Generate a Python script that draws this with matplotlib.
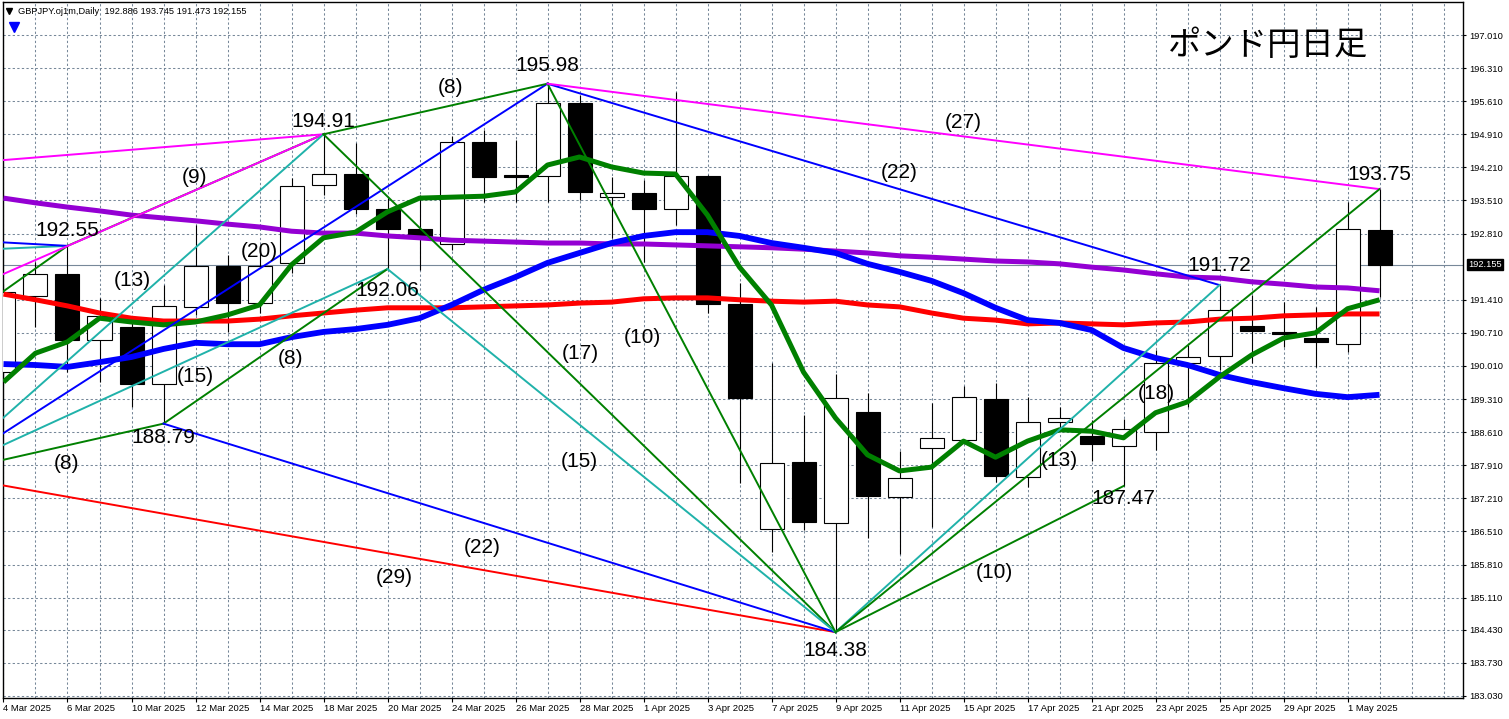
import matplotlib
matplotlib.use("Agg")
import matplotlib.pyplot as plt
import matplotlib.transforms as mtransforms

plt.rcParams['font.family'] = ['Liberation Sans', 'DejaVu Sans']

# ---------------- data ----------------
dates = ["4 Mar 2025", "5 Mar 2025", "6 Mar 2025", "7 Mar 2025", "10 Mar 2025", "11 Mar 2025",
         "12 Mar 2025", "13 Mar 2025", "14 Mar 2025", "17 Mar 2025", "18 Mar 2025", "19 Mar 2025",
         "20 Mar 2025", "21 Mar 2025", "24 Mar 2025", "25 Mar 2025", "26 Mar 2025", "27 Mar 2025",
         "28 Mar 2025", "31 Mar 2025", "1 Apr 2025", "2 Apr 2025", "3 Apr 2025", "4 Apr 2025",
         "7 Apr 2025", "8 Apr 2025", "9 Apr 2025", "10 Apr 2025", "11 Apr 2025", "14 Apr 2025",
         "15 Apr 2025", "16 Apr 2025", "17 Apr 2025", "18 Apr 2025", "21 Apr 2025", "22 Apr 2025",
         "23 Apr 2025", "24 Apr 2025", "25 Apr 2025", "28 Apr 2025", "29 Apr 2025", "30 Apr 2025",
         "1 May 2025", "2 May 2025"]

open_ = [189.88, 191.49, 191.95, 190.56, 190.83, 189.63, 191.26, 192.12, 191.34, 192.19,
         193.84, 194.07, 193.33, 192.91, 192.59, 194.75, 194.04, 194.03, 195.57, 193.58,
         193.67, 193.33, 194.03, 191.32, 186.56, 187.98, 186.69, 189.04, 187.24, 188.28,
         188.44, 189.31, 187.66, 188.82, 188.53, 188.32, 188.61, 190.07, 190.22, 190.85,
         190.73, 190.60, 190.47, 192.886]
high = [191.75, 192.21, 192.55, 191.45, 190.92, 191.72, 192.99, 192.36, 192.46, 193.99,
        194.91, 194.73, 193.56, 193.63, 194.87, 195.00, 194.79, 195.98, 195.74, 194.01,
        193.94, 195.80, 194.05, 191.76, 190.07, 188.97, 189.84, 189.44, 188.21, 189.23,
        189.59, 189.65, 189.35, 189.14, 188.87, 188.89, 190.35, 190.45, 191.72, 191.51,
        191.36, 191.26, 193.48, 193.745]
low = [189.60, 190.83, 189.88, 189.67, 189.14, 188.79, 191.09, 190.73, 191.13, 191.98,
       193.63, 193.22, 192.06, 192.04, 192.46, 193.48, 193.48, 193.48, 193.52, 192.72,
       192.21, 192.99, 191.13, 187.53, 186.08, 186.54, 184.38, 186.37, 186.03, 186.60,
       188.40, 187.56, 187.45, 188.70, 188.00, 187.47, 188.23, 189.14, 189.92, 190.07,
       190.41, 189.99, 190.30, 191.473]
close = [191.57, 191.95, 190.56, 191.07, 189.63, 191.28, 192.12, 191.34, 192.12, 193.82,
         194.07, 193.33, 192.91, 192.76, 194.75, 194.01, 194.01, 195.57, 193.69, 193.67,
         193.33, 194.03, 191.32, 189.33, 187.96, 186.71, 189.33, 187.26, 187.64, 188.49,
         189.35, 187.68, 188.82, 188.91, 188.36, 188.68, 190.07, 190.20, 191.19, 190.75,
         190.69, 190.52, 192.91, 192.155]

ma_green = [189.67, 190.28, 190.52, 191.02, 190.94, 190.88, 190.94, 191.09, 191.30, 192.15,
            192.72, 192.84, 193.27, 193.56, 193.58, 193.60, 193.69, 194.26, 194.43, 194.22,
            194.09, 194.07, 193.20, 192.10, 191.30, 189.88, 188.91, 188.13, 187.79, 187.87,
            188.42, 188.08, 188.42, 188.66, 188.63, 188.49, 189.02, 189.25, 189.78, 190.24,
            190.60, 190.71, 191.22, 191.41]
ma_blue = [190.05, 190.03, 189.99, 190.09, 190.20, 190.37, 190.50, 190.47, 190.47, 190.62,
           190.73, 190.79, 190.88, 191.02, 191.30, 191.62, 191.89, 192.19, 192.40, 192.61,
           192.76, 192.84, 192.84, 192.76, 192.61, 192.51, 192.40, 192.17, 192.00, 191.81,
           191.55, 191.24, 190.98, 190.92, 190.77, 190.39, 190.18, 190.03, 189.82, 189.67,
           189.54, 189.42, 189.35, 189.40]
ma_red = [191.53, 191.41, 191.28, 191.13, 191.02, 190.96, 190.96, 190.96, 191.00, 191.07,
          191.13, 191.19, 191.24, 191.24, 191.24, 191.26, 191.28, 191.30, 191.34, 191.36,
          191.43, 191.45, 191.45, 191.41, 191.38, 191.36, 191.38, 191.30, 191.26, 191.13,
          191.02, 190.98, 190.90, 190.92, 190.90, 190.88, 190.92, 190.94, 191.00, 191.02,
          191.07, 191.09, 191.11, 191.11]
ma_purple = [193.56, 193.46, 193.37, 193.29, 193.20, 193.14, 193.08, 193.01, 192.95, 192.86,
             192.82, 192.82, 192.76, 192.72, 192.67, 192.65, 192.63, 192.61, 192.61, 192.59,
             192.59, 192.57, 192.55, 192.53, 192.51, 192.48, 192.44, 192.40, 192.34, 192.31,
             192.27, 192.23, 192.21, 192.17, 192.10, 192.04, 191.96, 191.89, 191.87, 191.79,
             191.74, 191.68, 191.66, 191.60]

# trendlines: start bar, start price, end bar, end price, colour
tl_start_bar = [-1, -1, -1, -1, -1, 2, -2, -2, -2, -2, -2, 5, 5, 10, 10, 12, 17, 17, 17, 26, 26, 26]
tl_start_px = [194.31, 192.66, 192.46, 191.11, 191.66, 192.55, 187.72, 187.72, 187.72, 187.72,
               187.72, 188.79, 188.79, 194.91, 194.91, 192.06, 195.98, 195.98, 195.98,
               184.38, 184.38, 184.38]
tl_end_bar = [10, 2, 2, 2, 10, 10, 5, 10, 12, 17, 26, 12, 26, 17, 26, 26, 26, 38, 43, 35, 38, 43]
tl_end_px = [194.91, 192.55, 192.55, 192.55, 194.91, 194.91, 188.79, 194.91, 192.06, 195.98,
             184.38, 192.06, 184.38, 195.98, 184.38, 184.38, 184.38, 191.72, 193.75,
             187.47, 191.72, 193.75]
tl_color = ['m', 'b', 'c', 'g', 'm', 'g', 'g', 'c', 'c', 'b', 'r', 'g', 'b', 'g', 'g', 'c',
            'g', 'b', 'm', 'g', 'c', 'g']

pivot_text = ["195.98", "194.91", "192.55", "192.06", "188.79", "184.38", "187.47", "191.72", "193.75"]
count_text = ["(8)", "(9)", "(20)", "(13)", "(15)", "(8)", "(8)", "(17)", "(10)", "(15)",
              "(22)", "(29)", "(22)", "(27)", "(13)", "(10)", "(18)"]

yticks = [197.010, 196.310, 195.610, 194.910, 194.210, 193.510, 192.810, 191.410, 190.710,
          190.010, 189.310, 188.610, 187.910, 187.210, 186.510, 185.810, 185.110, 184.430,
          183.730, 183.030]
bid = 192.155
header = "GBPJPY.oj1m,Daily  192.886 193.745 191.473 192.155"
title = "ポンド円日足"

# ---------------- styling ----------------
COL = {'m': '#FF00FF', 'b': '#0000FF', 'c': '#20B2AA', 'g': '#008000', 'r': '#FF0000'}
GRID = '#778899'

fig = plt.figure(figsize=(15.09, 7.19), dpi=100)
ax = fig.add_axes([3 / 1509, 21 / 719, 1460 / 1509, 696 / 719])
ax.set_xlim(-0.0156, 45.609)
ax.set_ylim(182.987, 197.708)

n = len(dates)
x = list(range(n))

# grid
for yt in yticks:
    ax.axhline(yt, color=GRID, lw=0.75, ls=(0, (2.2, 2.2)), zorder=0.5)
for xi in range(0, 46):
    ax.axvline(xi, color=GRID, lw=0.75, ls=(0, (2.2, 2.2)), zorder=0.5)
ax.axhline(bid, color=GRID, lw=0.8, zorder=0.8)

# candles
ax.vlines(x, low, high, color='black', lw=0.8, zorder=2)
for i in range(n):
    o, c = open_[i], close[i]
    bottom = min(o, c)
    h = abs(c - o)
    fc = 'white' if c >= o else 'black'
    ax.bar(i, h, bottom=bottom, width=0.75, facecolor=fc, edgecolor='black',
           linewidth=0.8, zorder=3)

# moving averages
ax.plot(x, ma_purple, color='#9400D3', lw=3.6, zorder=4, solid_capstyle='butt')
ax.plot(x, ma_red, color='#FF0000', lw=3.6, zorder=4, solid_capstyle='butt')
ax.plot(x, ma_blue, color='#0000FF', lw=4.2, zorder=4, solid_capstyle='butt')
ax.plot(x, ma_green, color='#008000', lw=3.6, zorder=4.1, solid_capstyle='butt')

# trendlines
order = [5, 3, 2, 1, 0, 4] + list(range(6, len(tl_color)))
for k in order:
    ax.plot([tl_start_bar[k], tl_end_bar[k]], [tl_start_px[k], tl_end_px[k]],
            color=COL[tl_color[k]], lw=1.4, zorder=5)

# pivot labels
pivot_pos = [(17, 196.375), (10, 195.19), (2, 192.885), (12, 191.60), (5, 188.49),
             (26, 184.00), (35, 187.20), (38, 192.145), (43, 194.05)]
for t, (px, py) in zip(pivot_text, pivot_pos):
    ax.text(px, py, t, fontsize=15, ha='center', va='center', color='black', zorder=6)

count_pos = [(13.98, 195.89), (5.98, 193.99), (7.98, 192.44), (4.02, 191.81), (5.98, 189.78),
             (8.98, 190.16), (1.98, 187.94), (18.02, 190.28), (19.98, 190.62), (17.98, 187.98),
             (14.95, 186.16), (12.2, 185.53), (28.0, 194.11), (30.0, 195.15), (32.98, 188.00),
             (30.98, 185.65), (36.02, 189.42)]
for t, (px, py) in zip(count_text, count_pos):
    ax.text(px, py, t, fontsize=15, ha='center', va='center', color='black', zorder=6)

# axes / ticks
for s in ax.spines.values():
    s.set_color('black')
    s.set_linewidth(1.0)
ax.yaxis.tick_right()
ax.set_yticks(yticks)
ax.set_yticklabels([f"{v:.3f}" for v in yticks])
ax.tick_params(axis='y', which='major', direction='out', length=2.5, width=0.8,
               pad=2.2, labelsize=6.7, colors='black')
xt = list(range(0, n, 2))
ax.set_xticks(xt)
ax.set_xticklabels([dates[i] for i in xt])
for lbl in ax.get_xticklabels():
    lbl.set_horizontalalignment('left')
ax.tick_params(axis='x', which='major', direction='out', length=3, width=0.8,
               pad=1.5, labelsize=6.8, colors='black')

# bid label
trans = mtransforms.blended_transform_factory(ax.transAxes, ax.transData)
ax.text(1.0037, bid, f"{bid:.3f}", transform=trans, fontsize=6.7, color='white',
        ha='left', va='center', zorder=10, clip_on=False,
        bbox=dict(boxstyle='square,pad=0.15', facecolor='black', edgecolor='black'))

# header
ax.plot([6 / 1460], [687 / 696], marker='v', color='black', markersize=4, transform=ax.transAxes,
        clip_on=False, zorder=10)
ax.text(15 / 1460, 687 / 696, header, transform=ax.transAxes, fontsize=6.7, ha='left',
        va='center', color='black', zorder=10)
ax.plot([10.5 / 1460], [671 / 696], marker='v', color='#0000FF', markersize=6.5,
        transform=ax.transAxes, clip_on=False, zorder=10)

ax.text(1265 / 1460, 652 / 696, title, transform=ax.transAxes, fontsize=24,
        family=['Noto Sans CJK JP', 'DejaVu Sans'], ha='center', va='center', color='black',
        zorder=10)

fig.savefig('out.png', dpi=100, facecolor='white')
